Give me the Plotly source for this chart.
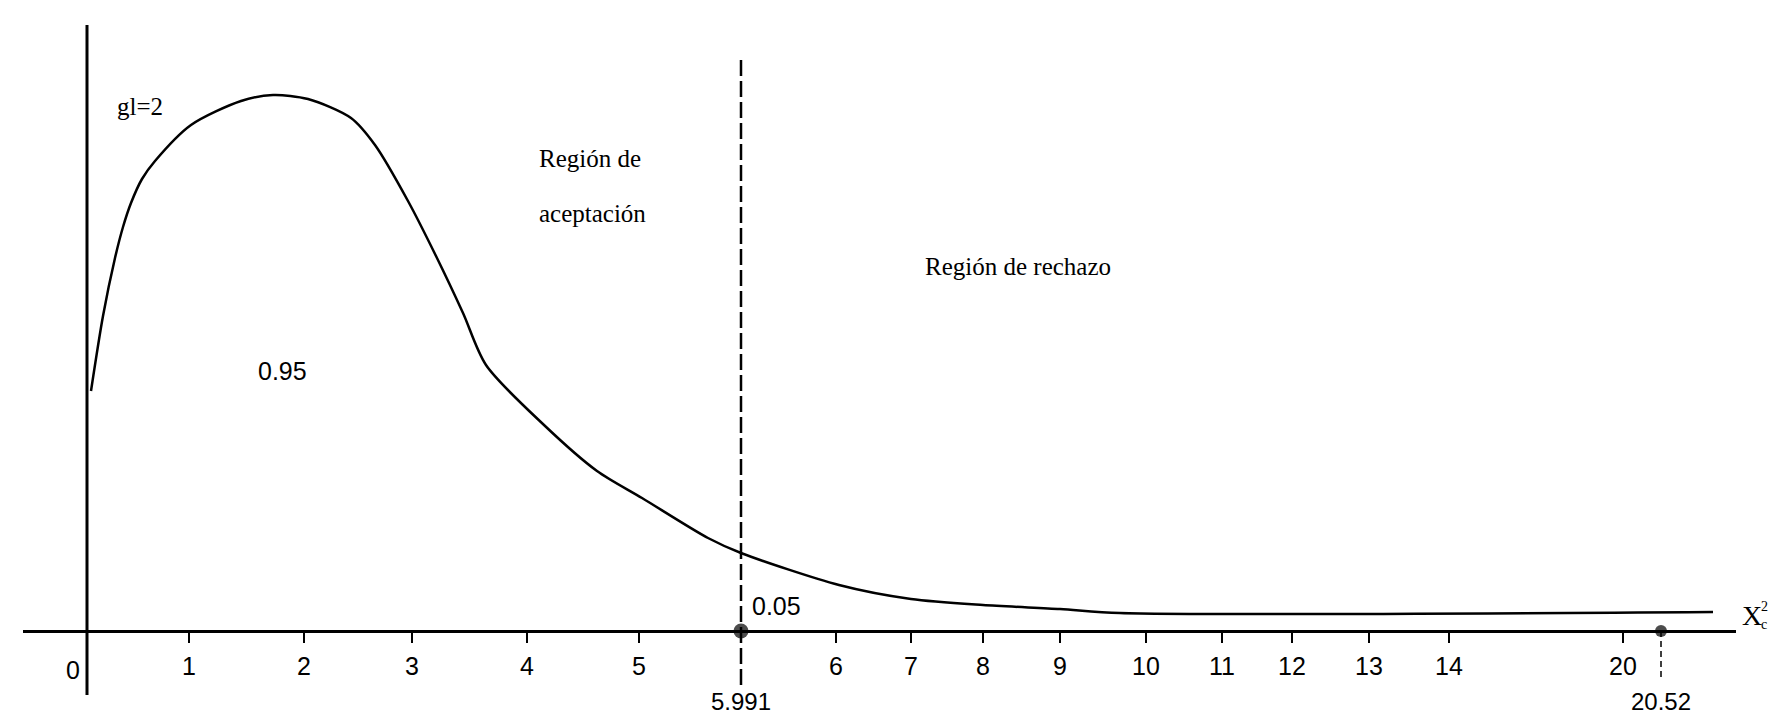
import plotly.graph_objects as go

# Schematic x positions (axis units) and their printed labels
tick_labels = ["1", "2", "3", "4", "5", "6", "7", "8", "9", "10", "11", "12", "13", "14", "20"]
tick_pos = [1.02, 2.17, 3.25, 4.40, 5.52, 7.49, 8.24, 8.96, 9.73, 10.59, 11.35, 12.05, 12.82, 13.62, 15.36]

# Critical values and their schematic positions
crit_labels = ["5.991", "20.52"]
crit_pos = [6.54, 15.74]

# Hand-drawn chi-square curve (gl = 2)
curve_x = [0.04, 0.16, 0.28, 0.36, 0.44, 0.55, 0.68, 1.04, 1.54, 1.86, 2.21, 2.64, 2.88, 3.21, 3.49, 3.76,
           3.99, 4.57, 5.10, 5.55, 6.21, 6.54, 7.52, 8.24, 8.96, 9.73, 10.33, 16.26]
curve_y = [2.40, 3.15, 3.73, 4.04, 4.28, 4.52, 4.70, 5.06, 5.30, 5.36, 5.32, 5.13, 4.86, 4.30, 3.75, 3.18,
           2.66, 2.06, 1.60, 1.33, 0.93, 0.78, 0.46, 0.32, 0.26, 0.22, 0.18, 0.19]

num_font = dict(family="Liberation Sans Narrow, Liberation Sans, Arial", size=25, color="black")
lab_font = dict(family="Liberation Sans Narrow, Liberation Sans, Arial", size=24, color="black")
txt_font = dict(family="Liberation Serif, Times New Roman, serif", size=25, color="black")
sym_font = dict(family="Liberation Serif, Times New Roman, serif", size=28, color="black")
small_font = dict(family="Liberation Serif, Times New Roman, serif", size=14, color="black")

fig = go.Figure()
fig.add_trace(go.Scatter(x=curve_x, y=curve_y, mode="lines",
                         line=dict(color="black", width=2.5, shape="spline", smoothing=0.8),
                         hoverinfo="skip", showlegend=False))
fig.add_trace(go.Scatter(x=crit_pos, y=[0, 0], mode="markers",
                         marker=dict(color="black", size=[15, 12], line=dict(width=0)),
                         hoverinfo="skip", showlegend=False))

# vertical axis
fig.add_shape(type="line", x0=0, x1=0, y0=-0.64, y1=6.06, line=dict(color="black", width=3))
# critical value dashed lines
fig.add_shape(type="line", x0=crit_pos[0], x1=crit_pos[0], y0=-0.54, y1=5.76,
              line=dict(color="black", width=2.5, dash="16px,5px"))
fig.add_shape(type="line", x0=crit_pos[1], x1=crit_pos[1], y0=0, y1=-0.50,
              line=dict(color="black", width=1.5, dash="6px,4px"))

ann = [
    dict(x=0.53, y=5.25, text="gl=2", font=txt_font, xanchor="center"),
    dict(x=4.50, y=4.73, text="Región de", font=txt_font, xanchor="left"),
    dict(x=4.50, y=4.18, text="aceptación", font=txt_font, xanchor="left"),
    dict(x=8.36, y=3.65, text="Región de rechazo", font=txt_font, xanchor="left"),
    dict(x=1.95, y=2.60, text="0.95", font=num_font, xanchor="center"),
    dict(x=6.63, y=0.25, text="0.05", font=num_font, xanchor="left"),
    dict(x=-0.14, y=-0.39, text="0", font=num_font, xanchor="center"),
    # axis symbol X with stacked superscript 2 and subscript c
    dict(x=16.45, y=0.16, text="X", font=sym_font, xanchor="left", xshift=8),
    dict(x=16.45, y=0.16, text="2", font=small_font, xanchor="left", xshift=27, yshift=9),
    dict(x=16.45, y=0.16, text="c", font=small_font, xanchor="left", xshift=27, yshift=-9),
]
for lab, pos in zip(crit_labels, crit_pos):
    ann.append(dict(x=pos, y=-0.70, text=lab, font=lab_font, xanchor="center"))
for a in ann:
    a.update(xref="x", yref="y", showarrow=False, yanchor="middle")

fig.update_layout(
    width=1783, height=712,
    margin=dict(l=0, r=0, t=0, b=0),
    paper_bgcolor="white", plot_bgcolor="white",
    showlegend=False,
    annotations=ann,
    xaxis=dict(domain=[15 / 1783, 1728 / 1783], range=[-0.64, 16.49],
               anchor="free", position=0.125,
               showline=True, linecolor="black", linewidth=3,
               showgrid=False, zeroline=False,
               tickmode="array", tickvals=tick_pos, ticktext=tick_labels,
               ticks="outside", ticklen=10, tickwidth=2, tickcolor="black",
               tickfont=num_font, ticklabelstandoff=2),
    yaxis=dict(domain=[0, 1], range=[-0.89, 6.23], visible=False,
               showgrid=False, zeroline=False),
)

fig.write_html("out.html")
